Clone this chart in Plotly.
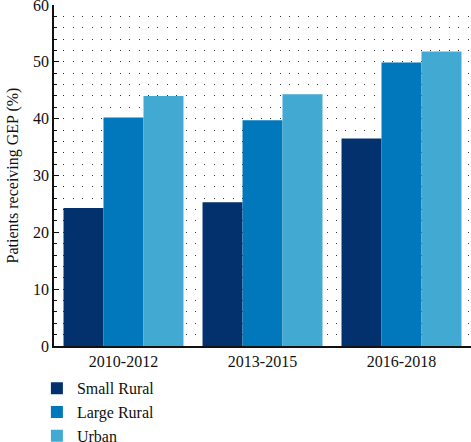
import plotly.graph_objects as go

periods = ["2010-2012", "2013-2015", "2016-2018"]
small_rural = [24.3, 25.3, 36.5]
large_rural = [40.2, 39.7, 49.9]
urban = [44.0, 44.3, 51.8]
series_names = ["Small Rural", "Large Rural", "Urban"]
colors = ["#03316e", "#0078bb", "#42a9d3"]
y_ticks = [0, 10, 20, 30, 40, 50, 60]

FONT = "Liberation Serif"

fig = go.Figure()
for name, vals, col in zip(series_names, [small_rural, large_rural, urban], colors):
    fig.add_trace(go.Bar(x=periods, y=vals, name=name,
                         marker=dict(color=col, line=dict(width=0))))

fig.update_layout(
    width=471, height=442,
    margin=dict(l=54, r=0, t=5, b=96, autoexpand=False),
    paper_bgcolor="white", plot_bgcolor="white",
    barmode="group", bargap=0.137, bargroupgap=0,
    font=dict(family=FONT, size=16, color="#111111"),
    showlegend=True,
    legend=dict(orientation="v", x=-0.041, y=-0.074, xanchor="left", yanchor="top",
                font=dict(family=FONT, size=16, color="#111111"),
                tracegroupgap=0, itemsizing="constant", bgcolor="rgba(0,0,0,0)"),
)

fig.update_xaxes(
    automargin=False,
    showline=True, linecolor="#111111", linewidth=1.5,
    showgrid=False, ticks="", tickfont=dict(family=FONT, size=16),
)
fig.update_yaxes(
    automargin=False, ticklabeloverflow="allow",
    range=[0, 60], tickvals=y_ticks,
    showline=True, linecolor="#111111", linewidth=1.5,
    ticks="inside", ticklen=5, tickcolor="#111111", tickwidth=1,
    showgrid=True, gridcolor="#333333", gridwidth=1, griddash="1px,8.4px",
    minor=dict(dtick=2, ticks="inside", ticklen=3, tickcolor="#111111",
               showgrid=True, gridcolor="#333333", gridwidth=1, griddash="1px,8.4px"),
    tickfont=dict(family=FONT, size=16),
    title=dict(text="Patients receiving GEP (%)", font=dict(family=FONT, size=16), standoff=10),
    zeroline=False,
)

fig.write_html("out.html",
               config={"displayModeBar": False},
               post_script="document.body.style.margin='0';document.body.style.padding='0';")
